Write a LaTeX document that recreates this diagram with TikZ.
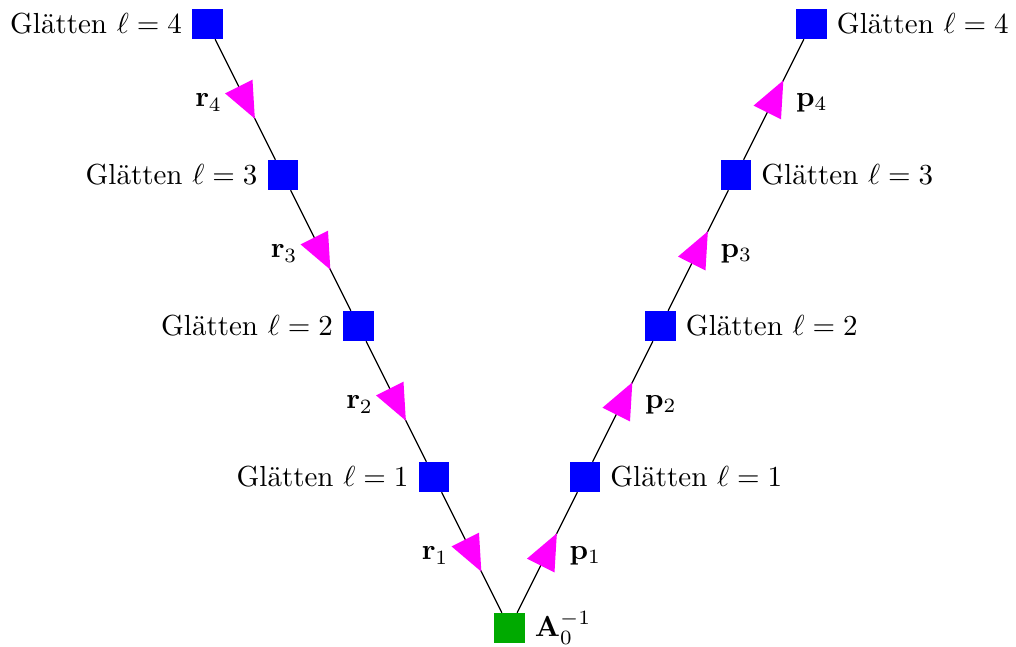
\documentclass[tikz,border=0pt]{standalone}
\usetikzlibrary{decorations.markings}
\definecolor{mag}{RGB}{255,0,255}
\definecolor{pblue}{RGB}{0,0,255}
\definecolor{pgreen}{RGB}{0,170,0}
\begin{document}
\begin{tikzpicture}[x=0.3448pt, y=-0.3448pt]
\tikzset{
  lvl/.style={fill=pblue, minimum size=10.5pt, inner sep=0pt, outer sep=0pt},
  coarse/.style={fill=pgreen, minimum size=10.5pt, inner sep=0pt, outer sep=0pt},
  vline/.style={draw=black, line width=0.4pt, postaction=decorate,
    decoration={markings, mark=at position 0.5 with {\fill[mag] (-5pt,5.3pt) -- (7.4pt,0pt) -- (-5pt,-5.3pt) -- cycle;}}},
  lab/.style={label distance=0pt}
}
\useasboundingbox (0,0) rectangle (1016,646);
\node[coarse, label={[lab]right:$\mathbf{A}_0^{-1}$}] (L0) at (509.5,628) {};
\coordinate (R0) at (L0);
\foreach \l in {1,2,3,4}{
  \pgfmathsetmacro{\xl}{509.5-75.5*\l}
  \pgfmathsetmacro{\xr}{509.5+75.5*\l}
  \pgfmathsetmacro{\yy}{628-151*\l}
  \node[lvl, label={[lab]left:Glätten $\ell=\l$}] (L\l) at (\xl,\yy) {};
  \node[lvl, label={[lab]right:Glätten $\ell=\l$}] (R\l) at (\xr,\yy) {};
}
\draw[vline] (L4) -- (L3);
\draw[vline] (L3) -- (L2);
\draw[vline] (L2) -- (L1);
\draw[vline] (L1) -- (L0);
\draw[vline] (L0) -- (R1);
\draw[vline] (R1) -- (R2);
\draw[vline] (R2) -- (R3);
\draw[vline] (R3) -- (R4);
\foreach \l in {1,2,3,4}{
  \pgfmathsetmacro{\xl}{509.5-75.5*(\l-0.5)-13}
  \pgfmathsetmacro{\xr}{509.5+75.5*(\l-0.5)+12}
  \pgfmathsetmacro{\yy}{628-151*(\l-0.5)+3}
  \node[anchor=east] (r\l) at (\xl,\yy) {$\mathbf{r}_\l$};
  \node[anchor=west] (p\l) at (\xr,\yy) {$\mathbf{p}_\l$};
}
\end{tikzpicture}
\end{document}
